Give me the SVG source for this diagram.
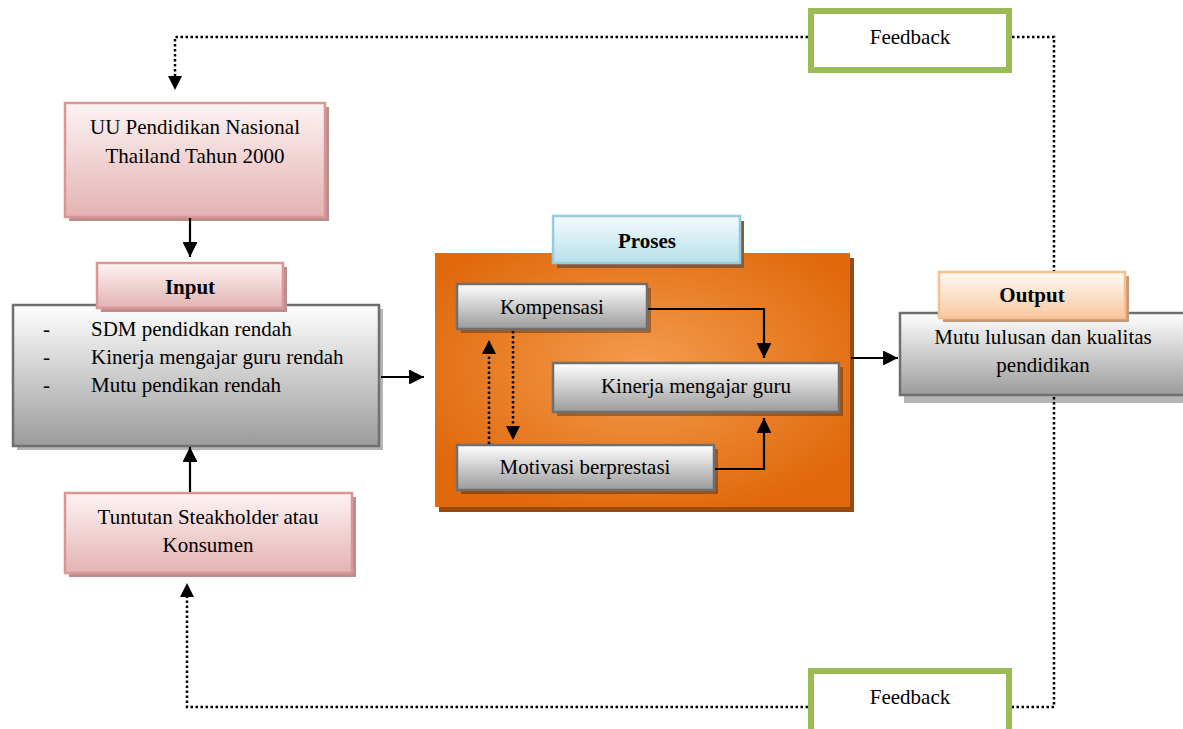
<svg xmlns="http://www.w3.org/2000/svg" width="1183" height="729" viewBox="0 0 1183 729">
<defs>
<linearGradient id="gPink" x1="0" y1="0" x2="0" y2="1"><stop offset="0" stop-color="#fdf3f3"/><stop offset="1" stop-color="#e3b3b2"/></linearGradient>
<linearGradient id="gGray" x1="0" y1="0" x2="0" y2="1"><stop offset="0" stop-color="#ffffff"/><stop offset="1" stop-color="#9b9b9b"/></linearGradient>
<linearGradient id="gBlue" x1="0" y1="0" x2="0" y2="1"><stop offset="0" stop-color="#f4fbfd"/><stop offset="1" stop-color="#b6dfe9"/></linearGradient>
<linearGradient id="gPeach" x1="0" y1="0" x2="0" y2="1"><stop offset="0" stop-color="#fffaf5"/><stop offset="1" stop-color="#f9c9a0"/></linearGradient>
<radialGradient id="gOrange" cx="0.5" cy="0.45" r="0.6"><stop offset="0" stop-color="#f49c4e"/><stop offset="1" stop-color="#e0690c"/></radialGradient>
<marker id="ah" viewBox="0 0 10 10" refX="10" refY="5" markerWidth="6.8" markerHeight="6.8" markerUnits="strokeWidth" orient="auto"><path d="M0,0 L10,5 L0,10 z" fill="#000"/></marker>
</defs>
<style>
text{font-family:"Liberation Serif","Times New Roman",serif;font-size:21px;fill:#000}
.b{font-weight:bold}
.c{text-anchor:middle}
.pink{fill:url(#gPink);stroke:#d99694;stroke-width:2.5}
.pinksh{fill:#b88e90}
.gray{fill:url(#gGray);stroke:#6f6f6f;stroke-width:2.5}
.graysh{fill:#b5b5b5}
.fb{fill:#fff;stroke:#9bbb59;stroke-width:6}
.solid{fill:none;stroke:#000;stroke-width:2.2;marker-end:url(#ah)}
.dot{fill:none;stroke:#000;stroke-width:2.5;stroke-dasharray:2.5 2.5}
.head{fill:#000}
</style>

<g id="feedback-top">
<rect class="fb" x="811" y="11" width="198" height="59"/>
<text class="c" x="910" y="44">Feedback</text>
</g>

<g id="uu">
<rect class="pinksh" x="69" y="107" width="260" height="114"/>
<rect class="pink" x="65" y="103" width="260" height="114"/>
<text class="c" x="195" y="134">UU Pendidikan Nasional</text>
<text class="c" x="195" y="163">Thailand Tahun 2000</text>
</g>

<g id="input">
<rect class="graysh" x="17" y="309" width="366" height="141"/>
<rect class="gray" x="13" y="305" width="366" height="141"/>
<rect class="pinksh" x="101" y="267" width="186" height="45"/>
<rect class="pink" x="97" y="263" width="186" height="45"/>
<text class="c b" x="190" y="294">Input</text>
<text x="43" y="336">-</text>
<text x="91" y="336">SDM pendidkan rendah</text>
<text x="43" y="364">-</text>
<text x="91" y="364">Kinerja mengajar guru rendah</text>
<text x="43" y="392">-</text>
<text x="91" y="392">Mutu pendikan rendah</text>
</g>

<g id="tuntutan">
<rect class="pinksh" x="69" y="497" width="287" height="80"/>
<rect class="pink" x="65" y="493" width="287" height="80"/>
<text class="c" x="208" y="524">Tuntutan Steakholder atau</text>
<text class="c" x="208" y="552">Konsumen</text>
</g>

<g id="proses">
<rect x="439" y="258" width="415" height="254" fill="#9a4b0c"/>
<rect x="435" y="253" width="415" height="254" fill="url(#gOrange)"/>
<rect x="557" y="221" width="187" height="47" fill="#8a5a38"/>
<rect x="553" y="216" width="187" height="47" fill="url(#gBlue)" stroke="#93cddd" stroke-width="2.5"/>
<text class="c b" x="647" y="248">Proses</text>
</g>

<g id="kompensasi">
<rect x="461" y="288" width="190" height="45" fill="#000" fill-opacity="0.3"/>
<rect class="gray" x="457" y="284" width="190" height="45"/>
<text class="c" x="552" y="314">Kompensasi</text>
</g>

<g id="kinerja">
<rect x="557" y="367" width="286" height="49" fill="#000" fill-opacity="0.3"/>
<rect class="gray" x="553" y="363" width="286" height="49"/>
<text class="c" x="696" y="393">Kinerja mengajar guru</text>
</g>

<g id="motivasi">
<rect x="461" y="449" width="257" height="45" fill="#000" fill-opacity="0.3"/>
<rect class="gray" x="457" y="445" width="257" height="45"/>
<text class="c" x="585" y="474">Motivasi berprestasi</text>
</g>

<g id="output">
<rect class="graysh" x="904" y="317" width="290" height="86"/>
<rect class="gray" x="900" y="313" width="290" height="82"/>
<rect x="943" y="276" width="186" height="46" fill="#c79a78"/>
<rect x="939" y="272" width="186" height="46" fill="url(#gPeach)" stroke="#f9bf8f" stroke-width="2.5"/>
<text class="c b" x="1032" y="302">Output</text>
<text class="c" x="1043" y="344">Mutu lulusan dan kualitas</text>
<text class="c" x="1043" y="372">pendidikan</text>
</g>

<g id="feedback-bottom">
<rect class="fb" x="811" y="671" width="198" height="70"/>
<text class="c" x="910" y="704">Feedback</text>
</g>

<g id="connectors">
<path class="solid" d="M190,218 V257"/>
<path class="solid" d="M190,492 V447"/>
<path class="solid" d="M381,377 H424"/>
<path class="solid" d="M851,358 H898"/>
<path class="solid" d="M648,309 H764 V358"/>
<path class="solid" d="M715,469 H764 V418"/>
<path class="dot" d="M513,331 V428"/>
<path class="head" d="M506,426 L513,440 L520,426 z"/>
<path class="dot" d="M489,444 V352"/>
<path class="head" d="M482,354 L489,340 L496,354 z"/>
<path class="dot" d="M808,37 H175 V78"/>
<path class="head" d="M168,76 L175,90 L182,76 z"/>
<path class="dot" d="M1012,37 H1054 V271"/>
<path class="dot" d="M1054,397 V707 H1012"/>
<path class="dot" d="M808,707 H187 V595"/>
<path class="head" d="M180,597 L187,583 L194,597 z"/>
</g>
</svg>
